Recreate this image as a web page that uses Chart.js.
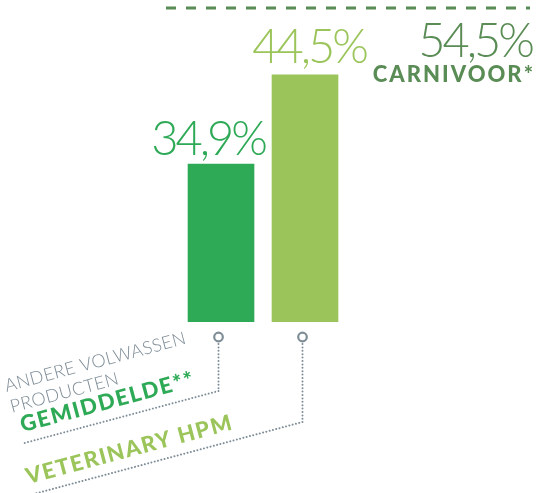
<!DOCTYPE html>
<html>
<head>
<meta charset="utf-8">
<script src="https://cdn.jsdelivr.net/npm/chart.js@4"></script>
<style>
  html, body { margin: 0; padding: 0; background: #fff; }
  #wrap { width: 536px; height: 493px; }
</style>
</head>
<body>
<div id="wrap"><canvas id="chart"></canvas></div>
<script>
// data
const categories = [
  ['ANDERE VOLWASSEN', 'PRODUCTEN', 'GEMIDDELDE**'],
  ['VETERINARY HPM']
];
const values = [34.9, 44.5];
const barColors = ['#2eaa57', '#9bc55a'];
const targetValue = 54.5;
const targetLabel = 'CARNIVOOR*';

const GRAY = '#7f8d97';
const DARK = '#5a8c55';

function pct(v) {
  return v.toFixed(1).replace('.', ',') + '%';
}

// labels, leader lines and the target text
const annotations = {
  id: 'annotations',
  afterDatasetsDraw(chart) {
    const ctx = chart.ctx;
    const meta = chart.getDatasetMeta(0);
    const bottom = chart.chartArea.bottom;
    const labelDx = [-13, 4];
    const labelGap = [9, 12];
    const drops = [69, 100];
    const lineLen = [201, 320];
    const angle = -15 * Math.PI / 180;

    meta.data.forEach((bar, i) => {
      // value above bar
      ctx.save();
      ctx.fillStyle = barColors[i];
      ctx.font = '300 47px Lato';
      ctx.letterSpacing = '-3px';
      ctx.textAlign = 'center';
      ctx.textBaseline = 'alphabetic';
      ctx.fillText(pct(values[i]), bar.x + labelDx[i], bar.y - labelGap[i]);
      ctx.restore();

      // circle + dotted leader
      const cx = bar.x - 2.5;
      const cy = bottom + 15;
      const corner = { x: cx, y: bottom + drops[i] };
      ctx.save();
      ctx.strokeStyle = GRAY;
      ctx.lineWidth = 2.2;
      ctx.beginPath();
      ctx.arc(cx, cy, 4.3, 0, Math.PI * 2);
      ctx.stroke();

      ctx.lineWidth = 2;
      ctx.lineCap = 'round';
      ctx.setLineDash([0, 3.4]);
      ctx.beginPath();
      ctx.moveTo(cx, cy + 7);
      ctx.lineTo(corner.x, corner.y);
      ctx.stroke();

      ctx.translate(corner.x, corner.y);
      ctx.rotate(angle);
      ctx.beginPath();
      ctx.moveTo(0, 0);
      ctx.lineTo(-lineLen[i], 0);
      ctx.stroke();
      ctx.setLineDash([]);

      // rotated category text
      ctx.textAlign = 'left';
      ctx.textBaseline = 'alphabetic';
      const lines = categories[i];
      const n = lines.length;
      lines.forEach((t, k) => {
        const last = k === n - 1;
        const v = 11 + (n - 1 - k) * 21.5;
        if (last) {
          ctx.font = '900 22px Lato';
          ctx.letterSpacing = '1.5px';
          ctx.fillStyle = barColors[i];
        } else {
          ctx.font = '300 18px Lato';
          ctx.letterSpacing = '0.3px';
          ctx.fillStyle = GRAY;
        }
        const u = i === 0 ? (last ? -200 : -205) : -281;
        ctx.fillText(t, u, -v);
      });
      ctx.restore();
    });

    // target text
    const y2 = chart.scales.y2;
    const ty = y2.getPixelForValue(targetValue);
    const right = chart.chartArea.right;
    ctx.save();
    ctx.fillStyle = DARK;
    ctx.textAlign = 'right';
    ctx.font = '300 47px Lato';
    ctx.letterSpacing = '-3px';
    ctx.fillText(pct(targetValue), right + 2, ty + 49);
    ctx.font = '900 22px Lato';
    ctx.letterSpacing = '2px';
    ctx.fillText(targetLabel, right + 5, ty + 74);
    ctx.restore();
  }
};

new Chart(document.getElementById('chart'), {
  type: 'bar',
  data: {
    datasets: [
      {
        data: values.map((v, i) => ({ x: i + 1, y: v })),
        backgroundColor: barColors,
        grouped: false,
        barThickness: 66,
        maxBarThickness: 66,
        xAxisID: 'x',
        yAxisID: 'y'
      },
      {
        type: 'line',
        data: [{ x: 0, y: targetValue }, { x: 1, y: targetValue }],
        borderColor: DARK,
        borderWidth: 3,
        borderDash: [10, 10],
        pointRadius: 0,
        fill: false,
        clip: false,
        xAxisID: 'x2',
        yAxisID: 'y2'
      }
    ]
  },
  options: {
    responsive: true,
    maintainAspectRatio: false,
    animation: false,
    layout: { padding: { top: 8, bottom: 171, left: 166, right: 6 } },
    plugins: { legend: { display: false }, tooltip: { enabled: false } },
    scales: {
      x: { type: 'linear', offset: false, min: 0.345, max: 4.679, display: false },
      x2: { type: 'linear', offset: false, min: 0, max: 1, display: false },
      y: { min: 17.9, max: 51.7, display: false },
      y2: { min: 0, max: targetValue, display: false }
    }
  },
  plugins: [annotations]
});
</script>
</body>
</html>
